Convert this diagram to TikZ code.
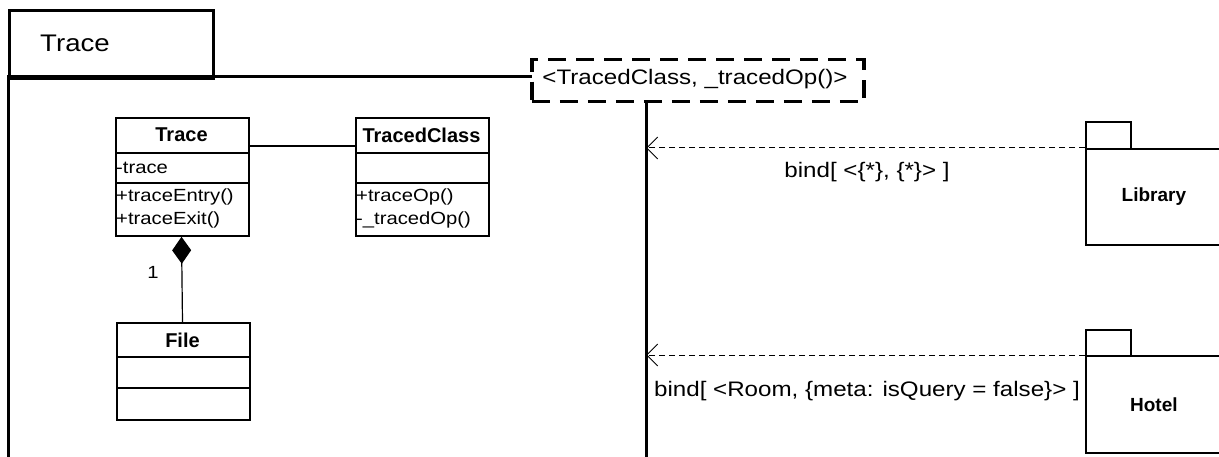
\documentclass[tikz,border=0pt]{standalone}
\usepackage{fontspec}
\setmainfont{Liberation Sans}
\newfontfamily\widefont[FakeStretch=1.15]{Liberation Sans}
\usetikzlibrary{arrows.meta,calc}
\begin{document}
\begin{tikzpicture}[x=1pt,y=-1pt,
  frameline/.style={line width=3pt},
  clsbox/.style={draw, line width=1.8pt, inner sep=0pt, minimum width=133pt, anchor=north west},
  divider/.style={line width=1.8pt},
  headtxt/.style={font=\fontsize{20}{24}\selectfont\bfseries},
  membtxt/.style={font=\widefont\fontsize{17.6}{21}\selectfont, anchor=west, inner sep=0pt},
  widetxt/.style={font=\widefont\fontsize{21}{25}\selectfont, inner sep=0pt},
  pkgbox/.style={draw, line width=1.8pt, inner sep=0pt, anchor=north west},
  dep/.style={dash pattern=on 6pt off 4pt, line width=1pt, -{Straight Barb[length=11pt,width=22pt,line width=1pt]}},
  tmplbox/.style={draw, fill=white, line width=3.5pt, dash pattern=on 18pt off 10pt, inner sep=0pt, anchor=north west, minimum width=332pt, minimum height=42pt}
]
\useasboundingbox (0,0) rectangle (1219,457);

% frame
\node[draw, frameline, inner sep=0pt, minimum width=204pt, minimum height=68pt, anchor=north west] (tab) at (8,9) {};
\node[font=\widefont\fontsize{24}{28}\selectfont] (tabtitle) at (75,43) {Trace};
\coordinate (frameTL) at (8,77);
\coordinate (frameBL) at (8,480);
\coordinate (frameTR) at (646,77);
\coordinate (frameBR) at (646,480);
\draw[frameline] (frameBL) -- (frameTL) -- (frameTR) -- (frameBR);

% template box
\node[tmplbox] (tmpl) at (530,58) {};
\node[widetxt] (tmpltxt) at (695,79) {<TracedClass, \_tracedOp()>};

% class Trace
\node[clsbox, minimum height=118pt] (trace) at (115,117) {};
\draw[divider] (115,153) -- (248,153);
\draw[divider] (115,183) -- (248,183);
\node[headtxt] (traceH) at (181.5,135) {Trace};
\node[membtxt] (traceA) at (116,168) {-trace};
\node[membtxt] (traceM1) at (116,197) {+traceEntry()};
\node[membtxt] (traceM2) at (116,220) {+traceExit()};

% class TracedClass
\node[clsbox, minimum height=118pt] (tc) at (355,117) {};
\draw[divider] (355,153) -- (488,153);
\draw[divider] (355,183) -- (488,183);
\node[headtxt] (tcH) at (421.5,135) {TracedClass};
\node[membtxt] (tcM1) at (356,197) {+traceOp()};
\node[membtxt] (tcM2) at (356,220) {-\_tracedOp()};

% class File
\node[clsbox, minimum height=97pt] (file) at (116,322) {};
\draw[divider] (116,357) -- (249,357);
\draw[divider] (116,388) -- (249,388);
\node[headtxt] (fileH) at (182.5,340) {File};

% association
\draw[line width=1.2pt] ([yshift=-11pt]trace.north east |- traceH.east) -- ([yshift=-11pt]tc.north west |- tcH.west);

% composition
\draw[line width=1.2pt, {Diamond[length=27pt,width=19pt]}-] (trace.south -| traceH.south) -- (file.north -| fileH.north);
\node[font=\widefont\fontsize{17.6}{21}\selectfont] (mult) at (153,272) {1};

% packages
\node[pkgbox, minimum width=45pt, minimum height=27pt] (libtab) at (1085,121) {};
\node[pkgbox, minimum width=136pt, minimum height=96pt, font=\fontsize{19}{22}\selectfont\bfseries] (lib) at (1085,148) {Library};
\node[pkgbox, minimum width=45pt, minimum height=26pt] (hoteltab) at (1085,329) {};
\node[pkgbox, minimum width=136pt, minimum height=97pt, font=\fontsize{19}{22}\selectfont\bfseries] (hotel) at (1085,355) {Hotel};

% bindings
\coordinate (libend) at (646,148);
\coordinate (hotelend) at (646,355);
\draw[dep] (lib.north west) -- (libend);
\draw[dep] (hotel.north west) -- (hotelend);
\node[widetxt] (libbind) at (867,172) {bind[ <\{*\}, \{*\}> ]};
\node[widetxt] (hotelbind) at (867,391) {bind[ <Room, \{meta: isQuery = false\}> ]};
\end{tikzpicture}
\end{document}
